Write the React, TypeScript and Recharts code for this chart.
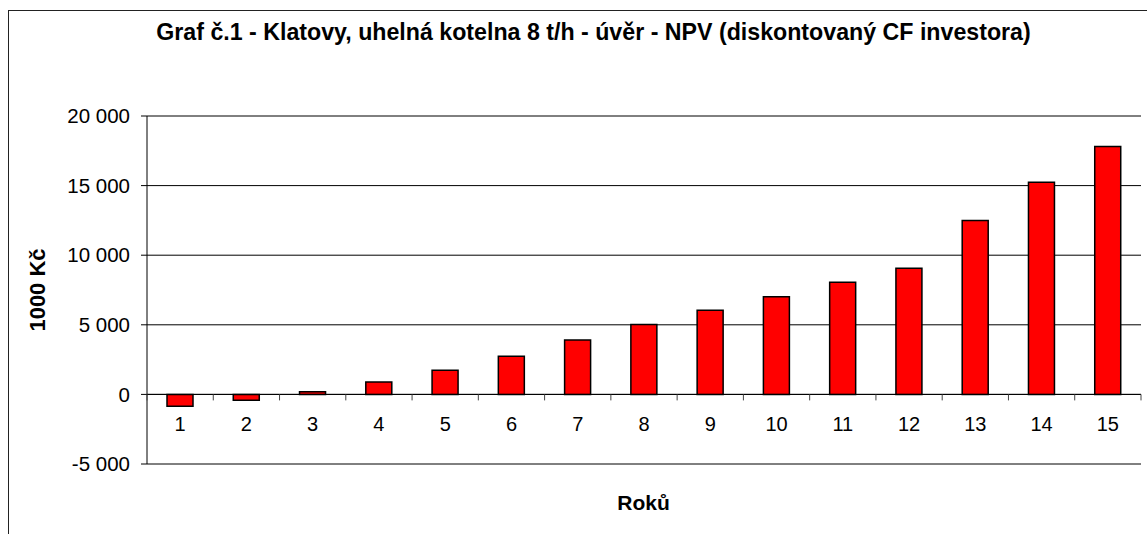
import { Bar, BarChart, CartesianGrid, ReferenceLine, XAxis, YAxis } from "recharts";

const years = ["1", "2", "3", "4", "5", "6", "7", "8", "9", "10", "11", "12", "13", "14", "15"];
const npv = [-850, -420, 190, 890, 1730, 2740, 3900, 5030, 6040, 7020, 8050, 9060, 12500, 15240, 17800];
const yTicks = [-5000, 0, 5000, 10000, 15000, 20000];

const font = "'Liberation Sans', Arial, sans-serif";
const W = 1138;
const H = 523;
const PLOT_TOP = 105;
const PLOT_H = 348;
const PLOT_W = 994;
const X_AXIS_H = 30;
const Y_MIN = -5000;
const Y_MAX = 20000;
const ZERO_Y = PLOT_TOP + (PLOT_H * Y_MAX) / (Y_MAX - Y_MIN);
const BAND = PLOT_W / years.length;

const data = years.map((year, i) => ({ year, npv: npv[i] }));

const fmt = (v: number) => (v < 0 ? "-" : "") + String(Math.abs(v)).replace(/\B(?=(\d{3})+(?!\d))/g, " ");

function XTick(props: any) {
  const { x, index, payload } = props;
  return (
    <g>
      <text x={x} y={ZERO_Y + 30} textAnchor="middle" dominantBaseline="central" fontSize={20} fontFamily={font} fill="#000">
        {payload.value}
      </text>
      <line x1={x + BAND / 2} x2={x + BAND / 2} y1={ZERO_Y} y2={ZERO_Y + 6} stroke="#444" />
      {index === 0 && <line x1={x - BAND / 2} x2={x - BAND / 2} y1={ZERO_Y} y2={ZERO_Y + 6} stroke="#444" />}
    </g>
  );
}

export default function App() {
  return (
    <div style={{ position: "absolute", left: 8, top: 10, width: W, height: H, borderLeft: "1px solid #222", borderTop: "1px solid #222", fontFamily: font, background: "#fff" }}>
      <div style={{ position: "absolute", left: 584.5 - 550, width: 1100, top: 10, lineHeight: "23px", fontSize: 23.2, fontWeight: "bold", textAlign: "center", color: "#000", whiteSpace: "nowrap" }}>
        Graf č.1 - Klatovy, uhelná kotelna 8 t/h - úvěr - NPV (diskontovaný CF investora)
      </div>
      <div style={{ position: "absolute", left: 29 - 100, top: 279 - 12, width: 200, height: 24, lineHeight: "24px", fontSize: 22, fontWeight: "bold", textAlign: "center", transform: "rotate(-90deg)", color: "#000" }}>
        1000 Kč
      </div>
      <div style={{ position: "absolute", left: 634.5 - 100, top: 481, width: 200, lineHeight: "22px", fontSize: 21, fontWeight: "bold", textAlign: "center", color: "#000" }}>
        Roků
      </div>
      <div style={{ position: "absolute", left: 0, top: 0 }}>
        <BarChart width={W} height={H} data={data} margin={{ top: PLOT_TOP, right: W - 138 - PLOT_W, bottom: H - PLOT_TOP - PLOT_H - X_AXIS_H, left: 0 }}>
          <CartesianGrid vertical={false} stroke="#000" fill="#fff" />
          <XAxis dataKey="year" height={X_AXIS_H} axisLine={false} tickLine={false} interval={0} tick={(p: any) => <XTick {...p} />} />
          <YAxis
            width={138}
            domain={[Y_MIN, Y_MAX]}
            ticks={yTicks}
            interval={0}
            tickFormatter={fmt}
            tickSize={6}
            tickMargin={11}
            axisLine={{ stroke: "#000" }}
            tickLine={{ stroke: "#000" }}
            tick={{ fill: "#000", fontSize: 20.5, fontFamily: font }}
          />
          <YAxis yAxisId="r" orientation="right" width={0} domain={[Y_MIN, Y_MAX]} tick={false} tickLine={false} axisLine={{ stroke: "#808080" }} />
          <ReferenceLine y={Y_MAX} stroke="#808080" />
          <ReferenceLine y={Y_MIN} stroke="#808080" />
          <Bar dataKey="npv" fill="#ff0000" stroke="#000" strokeWidth={1.5} barSize={26} isAnimationActive={false} />
          <ReferenceLine y={0} stroke="#000" />
        </BarChart>
      </div>
    </div>
  );
}
